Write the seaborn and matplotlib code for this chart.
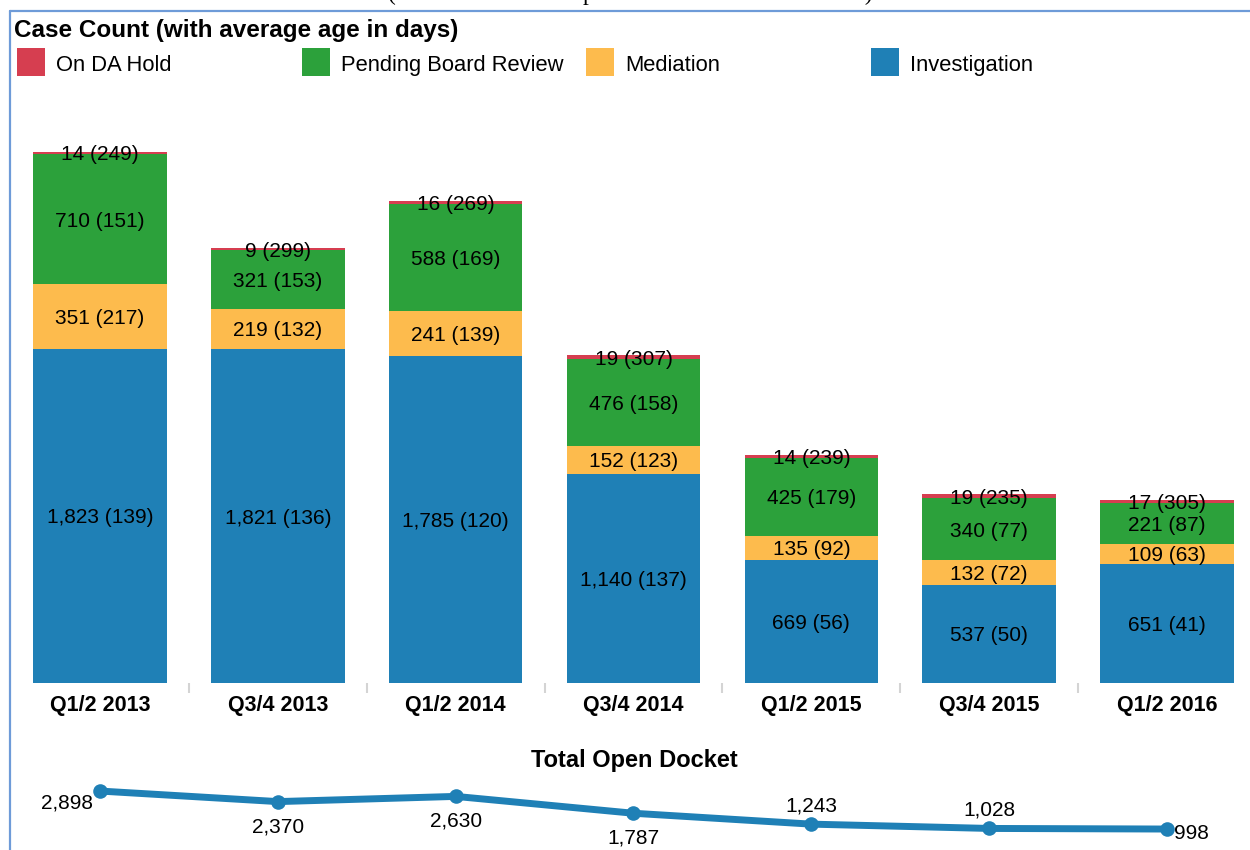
import matplotlib
matplotlib.use("Agg")
import matplotlib.pyplot as plt
import seaborn as sns
import numpy as np
import pandas as pd
from matplotlib.patches import Rectangle
from matplotlib.lines import Line2D

# ---------------- data ----------------
periods = ["Q1/2 2013", "Q3/4 2013", "Q1/2 2014", "Q3/4 2014",
           "Q1/2 2015", "Q3/4 2015", "Q1/2 2016"]
investigation = [1823, 1821, 1785, 1140, 669, 537, 651]
investigation_age = [139, 136, 120, 137, 56, 50, 41]
mediation = [351, 219, 241, 152, 135, 132, 109]
mediation_age = [217, 132, 139, 123, 92, 72, 63]
board_review = [710, 321, 588, 476, 425, 340, 221]
board_review_age = [151, 153, 169, 158, 179, 77, 87]
da_hold = [14, 9, 16, 19, 14, 19, 17]
da_hold_age = [249, 299, 269, 307, 239, 235, 305]
total_open = [2898, 2370, 2630, 1787, 1243, 1028, 998]

legend_labels = ["On DA Hold", "Pending Board Review", "Mediation", "Investigation"]

# ---------------- style ----------------
sns.set_theme(style="white")
plt.rcParams["font.family"] = ["Liberation Sans", "DejaVu Sans"]
plt.rcParams["text.color"] = "black"
plt.rcParams["xtick.color"] = "black"
plt.rcParams["axes.labelcolor"] = "black"

RED = "#d63e50"
GREEN = "#2ca13b"
YELLOW = "#fdbb4d"
BLUE = "#1f80b6"
layer_colors = [BLUE, YELLOW, GREEN, RED]      # bottom -> top
legend_colors = [RED, GREEN, YELLOW, BLUE]

W, H = 1250, 850
fig = plt.figure(figsize=(W / 100, H / 100), dpi=100)

step = 177.83
left_px = 100 - 0.5 * step
base_px = 683
top_px = 90
scale = 0.1834  # px per case

ax = fig.add_axes([left_px / W, (H - base_px) / H, 7 * step / W, (base_px - top_px) / H])

layers = [investigation, mediation, board_review, da_hold]
ages = [investigation_age, mediation_age, board_review_age, da_hold_age]
cum = np.cumsum(np.array(layers), axis=0)

df = pd.DataFrame({"period": periods})
# draw cumulative bars from the top layer down so they stack visually
for i in range(len(layers) - 1, -1, -1):
    df["top"] = cum[i]
    sns.barplot(data=df, x="period", y="top", color=layer_colors[i],
                saturation=1, width=0.75, linewidth=0, ax=ax, order=periods)

# segment labels
for i in range(len(layers)):
    bottoms = cum[i] - np.array(layers[i])
    for j, p in enumerate(periods):
        v = layers[i][j]
        ax.text(j, bottoms[j] + v / 2, f"{v:,} ({ages[i][j]})",
                ha="center", va="center_baseline", fontsize=15, color="black")

ax.set_xlim(-0.5, 6.5)
ax.set_ylim(0, (base_px - top_px) / scale)
ax.set_xlabel("")
ax.set_ylabel("")
ax.set_yticks([])
for s in ax.spines.values():
    s.set_visible(False)
ax.set_xticks(range(len(periods)))
ax.set_xticklabels(periods, fontsize=15.5, fontweight="bold")
ax.tick_params(axis="x", which="major", length=0, pad=9, colors="black")
ax.set_xticks(np.arange(0.5, len(periods) - 1, 1), minor=True)
ax.tick_params(axis="x", which="minor", bottom=True, length=7, width=1.5,
               color="#d4d4d4", direction="out")

# ---------------- line chart ----------------
ax2 = fig.add_axes([left_px / W, 1 / H, 7 * step / W, 100 / H])
xs = list(range(len(periods)))
sns.lineplot(x=xs, y=total_open, ax=ax2, color=BLUE, linewidth=5,
             marker="o", markersize=10.5, markeredgewidth=0, clip_on=False)
ax2.set_xlim(-0.5, 6.5)
ax2.set_ylim(0, 100 / 0.0200)
ax2.axis("off")

placements = ["left", "below", "below", "below", "above", "above", "right"]
offs = {"left": ((-5, -7.5), "right"), "below": ((0, -16.5), "center"),
        "above": ((0, 14.5), "center"), "right": ((5, -2), "left")}
for x, v, pl in zip(xs, total_open, placements):
    (dx, dy), ha = offs[pl]
    ax2.annotate(f"{v:,}", (x, v), xytext=(dx, dy), textcoords="offset points",
                 ha=ha, va="center_baseline", fontsize=15, color="black",
                 annotation_clip=False)

fig.text(634 / W, 1 - 760 / H, "Total Open Docket", ha="center", va="center",
         fontsize=17, fontweight="bold")

# ---------------- header / legend ----------------
fig.text(14 / W, 1 - 30 / H, "Case Count (with average age in days)", ha="left",
         va="center", fontsize=17.5, fontweight="bold")
leg_x = [17, 302, 586, 871]
for lx, lab, col in zip(leg_x, legend_labels, legend_colors):
    fig.add_artist(Rectangle((lx / W, 1 - 76 / H), 28 / W, 28 / H,
                             transform=fig.transFigure, color=col, lw=0))
    fig.text((lx + 39) / W, 1 - 63 / H, lab, ha="left", va="center_baseline",
             fontsize=15.8)

# clipped serif heading at very top
fig.text(630 / W, 1.0, "(Number of Cases Open at the End of Each Period)",
         ha="center", va="baseline", fontsize=17, family="Liberation Serif")

# blue frame
frame_col = "#6e9bd8"
fig.add_artist(Line2D([10 / W, 10 / W], [0, 1 - 11 / H], transform=fig.transFigure,
                      color=frame_col, lw=1.6))
fig.add_artist(Line2D([10 / W, 1], [1 - 11 / H, 1 - 11 / H], transform=fig.transFigure,
                      color=frame_col, lw=1.6))

fig.savefig("out.png", dpi=100)
